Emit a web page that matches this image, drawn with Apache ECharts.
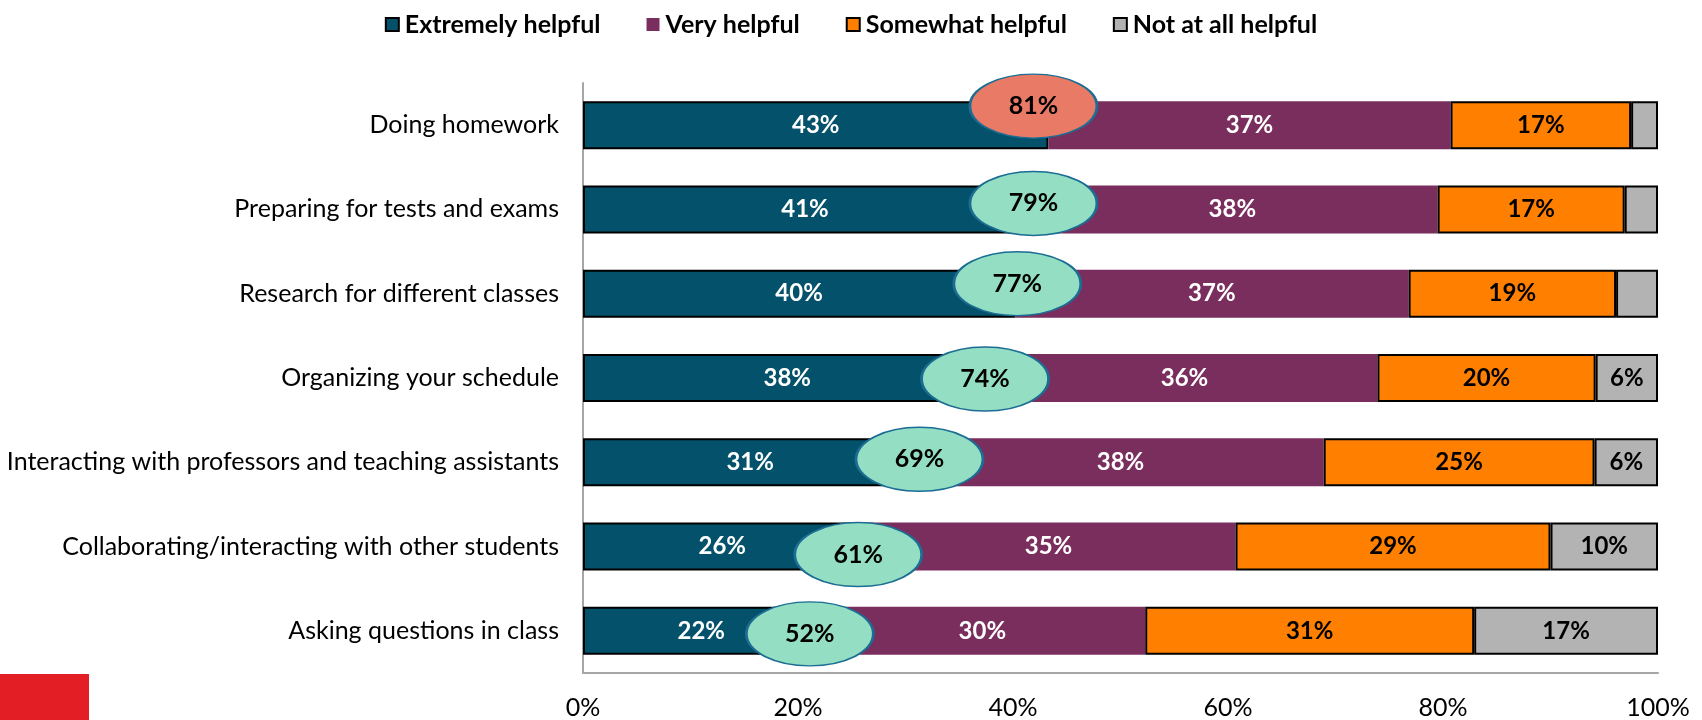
<!DOCTYPE html>
<html>
<head>
<meta charset="utf-8">
<script src="https://cdn.jsdelivr.net/npm/echarts@6/dist/echarts.min.js"></script>
<style>
html,body{margin:0;padding:0;background:#fff;}
#chart{width:1702px;height:720px;}
</style>
</head>
<body>
<div id="chart"></div>
<script>
const categories = [
  'Doing homework',
  'Preparing for tests and exams',
  'Research for different classes',
  'Organizing your schedule',
  'Interacting with professors and teaching assistants',
  'Collaborating/interacting with other students',
  'Asking questions in class'
];
const seriesNames = ['Extremely helpful', 'Very helpful', 'Somewhat helpful', 'Not at all helpful'];
const extremely = [43.3, 41.3, 40.2, 38.0, 31.1, 25.9, 22.0];
const very      = [37.4, 38.2, 36.6, 35.9, 37.8, 34.8, 30.3];
const somewhat  = [16.8, 17.4, 19.3, 20.3, 25.2, 29.3, 30.6];
const notAtAll  = [2.5, 3.1, 3.9, 5.8, 5.9, 10.0, 17.1];
const topTwo    = [81, 79, 77, 74, 69, 61, 52];
const topTwoPos = [41.9, 41.9, 40.4, 37.4, 31.3, 25.6, 21.1];
const bubbleShift = [-19, -6, -10, 1, -3, 8, 3];
const xTicks = [0, 20, 40, 60, 80, 100];

const FONT = 'Lato';
const colors = ['#03516A', '#7A2E5E', '#FF7F00', '#B3B3B3'];

function barSeries(name, data, color, border, labelColor, minShow) {
  return {
    name: name,
    type: 'bar',
    stack: 'total',
    barWidth: 48,
    data: data,
    itemStyle: { color: color, borderColor: border ? '#000' : color, borderWidth: border ? 2 : 0 },
    label: {
      show: true,
      position: 'inside',
      color: labelColor,
      fontFamily: FONT,
      fontWeight: 'bold',
      fontSize: 24,
      formatter: p => (p.value >= minShow ? Math.round(p.value) + '%' : '')
    },
    z: 2
  };
}

const bubbles = categories.map((c, i) => ({
  value: [topTwoPos[i], c],
  label: topTwo[i] + '%',
  symbolOffset: [0, bubbleShift[i]],
  itemStyle: { color: i === 0 ? '#E97A66' : '#94DFC3' }
}));

const chart = echarts.init(document.getElementById('chart'), null, { renderer: 'canvas' });
chart.setOption({
  animation: false,
  backgroundColor: '#fff',
  legend: {
    data: seriesNames,
    top: 7,
    left: 'center',
    itemWidth: 13,
    itemHeight: 13,
    itemGap: 46,
    icon: 'rect',
    textStyle: { fontFamily: FONT, fontWeight: 'bold', fontSize: 25, color: '#000', padding: [0, 0, 0, 1] }
  },
  grid: { left: 583, right: 44, top: 83, bottom: 46, containLabel: false },
  xAxis: {
    type: 'value',
    min: xTicks[0],
    max: xTicks[xTicks.length - 1],
    interval: xTicks[1] - xTicks[0],
    axisLine: { show: true, lineStyle: { color: '#A6A6A6', width: 2 } },
    axisTick: { show: false },
    splitLine: { show: false },
    axisLabel: { formatter: '{value}%', fontFamily: FONT, fontSize: 25, color: '#000', margin: 22 }
  },
  yAxis: {
    type: 'category',
    data: categories,
    inverse: true,
    axisLine: { show: true, lineStyle: { color: '#A6A6A6', width: 2 } },
    axisTick: { show: false },
    axisLabel: { fontFamily: FONT, fontSize: 25, color: '#000', margin: 24 }
  },
  series: [
    barSeries(seriesNames[0], extremely, colors[0], true, '#fff', 0),
    barSeries(seriesNames[1], very, colors[1], false, '#fff', 0),
    barSeries(seriesNames[2], somewhat, colors[2], true, '#000', 0),
    barSeries(seriesNames[3], notAtAll, colors[3], true, '#000', 5),
    {
      name: 'Top two',
      type: 'scatter',
      symbol: 'circle',
      symbolSize: [127, 64],
      data: bubbles,
      itemStyle: { borderColor: '#1B6D93', borderWidth: 2, opacity: 1 },
      label: {
        show: true,
        position: 'inside',
        formatter: p => p.data.label,
        fontFamily: FONT,
        fontWeight: 'bold',
        fontSize: 25,
        color: '#000'
      },
      z: 5
    }
  ],
  graphic: [{
    type: 'rect',
    left: 0,
    top: 674,
    shape: { width: 89, height: 46 },
    style: { fill: '#E31E24' }
  }]
});
</script>
</body>
</html>
